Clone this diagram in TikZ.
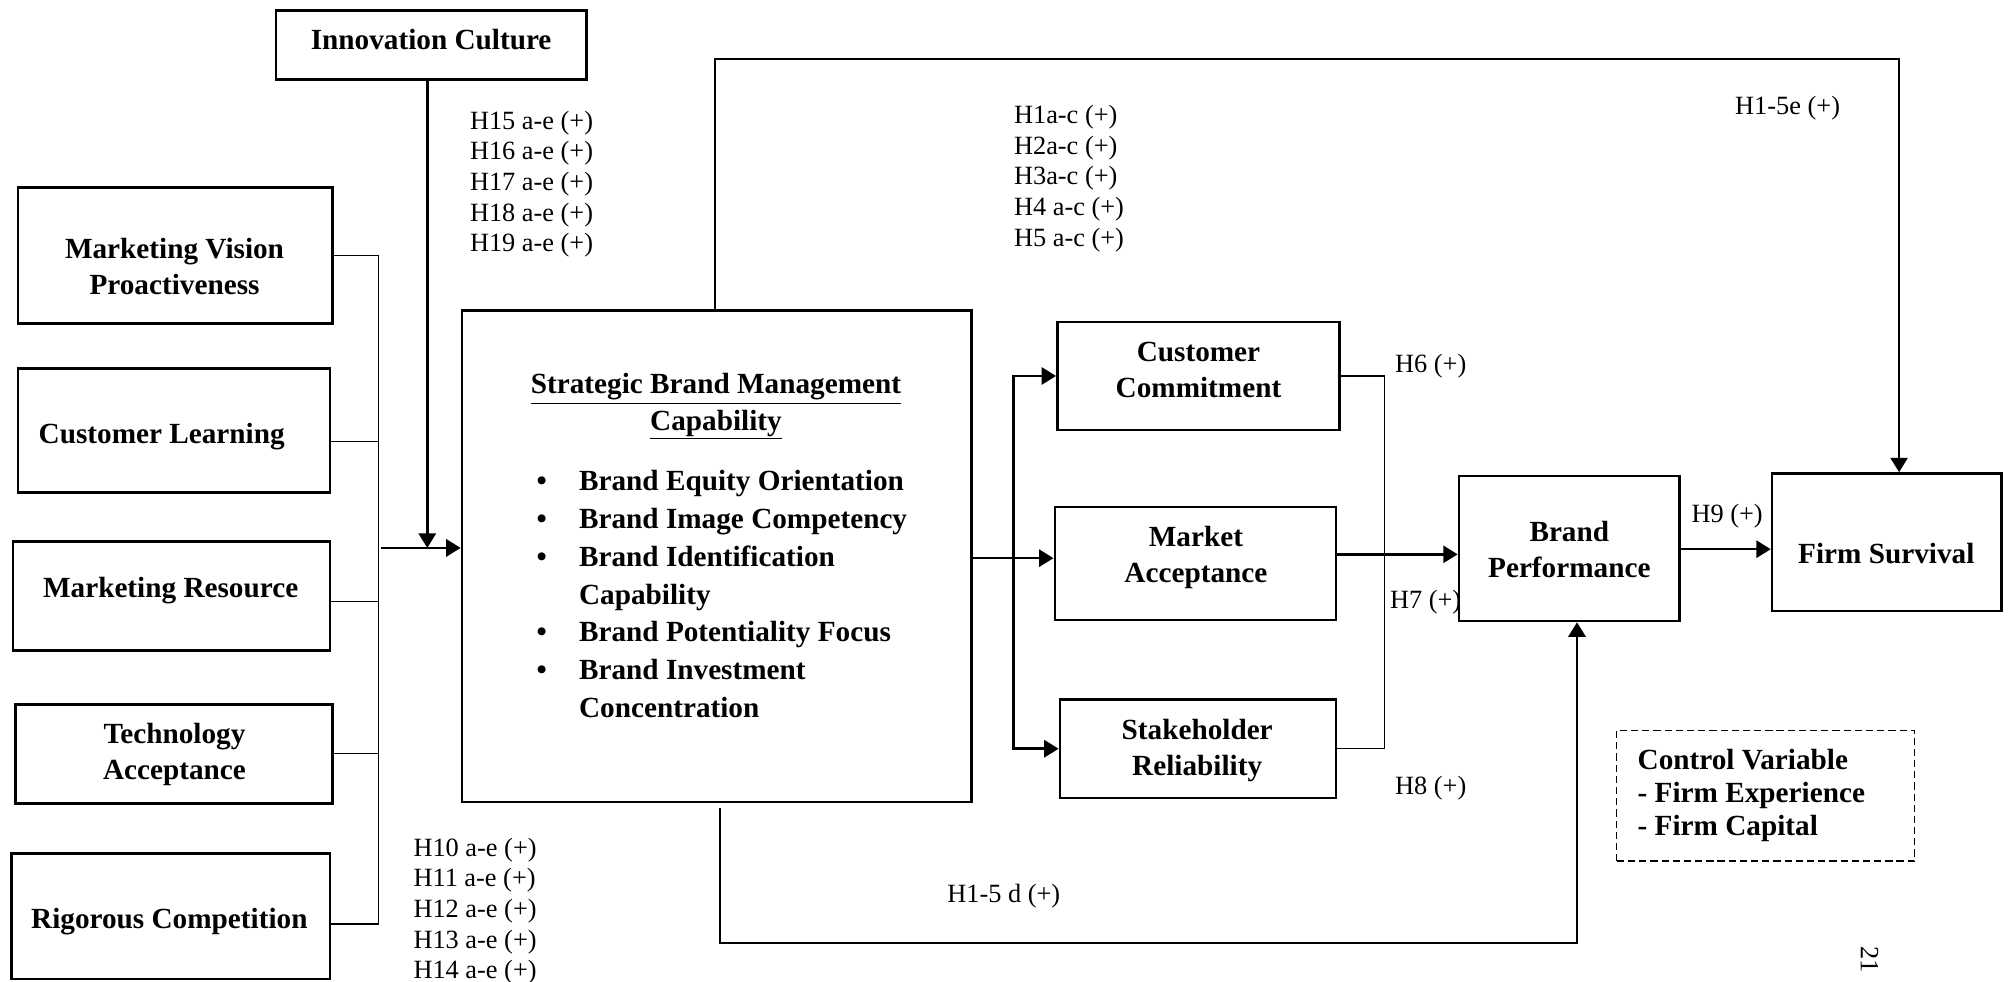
\documentclass[tikz,border=0pt]{standalone}
\usepackage{fontspec}
\setmainfont{Liberation Serif}
\usetikzlibrary{arrows.meta,calc}

\newcommand{\bxfont}{\fontsize{16.2}{20}\selectfont\bfseries}
\newcommand{\lbfont}{\fontsize{14.6}{17}\selectfont}
\newcommand{\itm}[1]{\makebox[23.5pt][l]{\textbullet}#1}
\newcommand{\itc}[1]{\hspace*{23.5pt}#1}

\begin{document}
\begin{tikzpicture}[x=0.025cm, y=-0.025cm,
  box/.style={draw, line width=1.4pt, fill=white, inner sep=0pt},
  sz/.style 2 args={minimum width=#1*0.025cm, minimum height=#2*0.025cm},
  btext/.style={font=\bxfont, align=center, inner sep=0pt},
  hyp/.style={font=\lbfont, align=left, anchor=west, inner sep=0pt},
  heavy/.style={line width=1.4pt},
  light/.style={line width=0.7pt},
  arr/.style={heavy, -{Triangle[length=8pt,width=9.5pt]}},
]
\useasboundingbox (0,0) rectangle (1568,765);

% hypothesis labels
\node[hyp] (h15) at (366,143.5) {H15 a-e (+)\\H16 a-e (+)\\H17 a-e (+)\\H18 a-e (+)\\H19 a-e (+)};
\node[hyp] (h1) at (790,139) {H1a-c (+)\\H2a-c (+)\\H3a-c (+)\\H4 a-c (+)\\H5 a-c (+)};
\node[hyp] (h15e) at (1352,84.5) {H1-5e (+)};
\node[hyp] (h10) at (322,710) {H10 a-e (+)\\H11 a-e (+)\\H12 a-e (+)\\H13 a-e (+)\\H14 a-e (+)};
\node[hyp] (h15d) at (738,698.5) {H1-5 d (+)};
\node[hyp] (h6) at (1087,285.5) {H6 (+)};
\node[hyp] (h7) at (1083,469) {H7 (+)};
\node[hyp] (h8) at (1087,614.5) {H8 (+)};
\node[hyp] (h9) at (1318,402.5) {H9 (+)};

% antecedents
\node[box, sz={242}{54}] (ic) at (336,35) {};
\node[btext] (ic-t) at (336,31) {Innovation Culture};
\node[box, sz={245}{106}] (mvp) at (136.5,199) {};
\node[btext] (mvp-t) at (136,208) {Marketing Vision\\Proactiveness};
\node[box, sz={243}{97}] (cl) at (135.5,335.5) {};
\node[btext] (cl-t) at (126,340) {Customer Learning};
\node[box, sz={247}{85}] (mr) at (133.5,464.5) {};
\node[btext] (mr-t) at (133,460) {Marketing Resource};
\node[box, sz={247}{77}] (ta) at (135.5,587.5) {};
\node[btext] (ta-t) at (136,588) {Technology\\Acceptance};
\node[box, sz={248}{98}] (rc) at (133,714) {};
\node[btext] (rc-t) at (132,718) {Rigorous Competition};

% strategic brand management capability
\node[box, sz={397}{383}] (sb) at (558.5,433.5) {};
\node[btext] (sb-t) at (558,317) {\underline{Strategic Brand Management}\\\underline{Capability}};
\node[font=\fontsize{16.2}{20.9}\selectfont\bfseries, align=left, anchor=west, inner sep=0pt] (sb-l) at (418,463)
  {\itm{Brand Equity Orientation}\\\itm{Brand Image Competency}\\\itm{Brand Identification}\\\itc{Capability}\\\itm{Brand Potentiality Focus}\\\itm{Brand Investment}\\\itc{Concentration}};

% mediators and outcomes
\node[box, sz={220}{84}] (cc) at (934,293) {};
\node[btext] (cc-t) at (934,288.5) {Customer\\Commitment};
\node[box, sz={219}{88}] (ma) at (931.5,439) {};
\node[btext] (ma-t) at (932,434.5) {Market\\Acceptance};
\node[box, sz={215}{77}] (sr) at (933.5,583.5) {};
\node[btext] (sr-t) at (933,585) {Stakeholder\\Reliability};
\node[box, sz={172}{113}] (bp) at (1223,427.5) {};
\node[btext] (bp-t) at (1223,428.5) {Brand\\Performance};
\node[box, sz={179}{107}] (fs) at (1470.5,422.5) {};
\node[btext] (fs-t) at (1470,431) {Firm Survival};

% control variables
\node[draw, line width=0.7pt, dash pattern={on 4pt off 2.2pt}, sz={232}{102}] (cv) at (1376,620) {};
\node[font=\fontsize{16.2}{18.5}\selectfont\bfseries, align=left, anchor=west, inner sep=0pt] (cv-t) at (1276,620)
  {Control Variable\\- Firm Experience\\- Firm Capital};

% page number
\node[font=\lbfont, rotate=-90, inner sep=0pt] (pg) at (1457,748) {21};

% antecedents bus
\coordinate (bus-top) at (295,199);
\coordinate (bus-bot) at (295,720);
\coordinate (jcl) at (295,344);
\coordinate (jmr) at (295,469);
\coordinate (jta) at (295,587);
\draw[light] (mvp.east) -- (bus-top);
\draw[light] (jcl -| cl.east) -- (jcl);
\draw[light] (jmr -| mr.east) -- (jmr);
\draw[light] (jta -| ta.east) -- (jta);
\draw[light] (bus-bot -| rc.east) -- (bus-bot);
\draw[light] (bus-top) -- (bus-bot);
\coordinate (jin) at (297,427);
\draw[arr] (jin) -- (jin -| sb.west);
\coordinate (jic) at (333,427);
\draw[arr] (jic |- ic.south) -- (jic);

% direct path to firm survival
\coordinate (tl) at (557,46);
\coordinate (tr) at (1480,46);
\draw[arr, line width=1pt] (tl |- sb.north) -- (tl) -- (tr) -- (tr |- fs.north);

% direct path to brand performance
\coordinate (bl) at (561,735);
\coordinate (br) at (1229,735);
\draw[arr] ($(bl |- sb.south)+(0,4)$) -- (bl) -- (br) -- (br |- bp.south);

% split to mediators
\coordinate (sp) at (790,435);
\draw[heavy] (sb.east |- sp) -- (sp);
\draw[heavy, line cap=rect] (sp |- cc.west) -- (sp |- sr.west);
\draw[arr] (sp) -- (sp -| ma.west);
\draw[arr] (sp |- cc.west) -- (cc.west);
\draw[arr] (sp |- sr.west) -- (sr.west);

% mediators to brand performance
\coordinate (rb) at (1079,0);
\draw[light] (cc.east) -- (cc.east -| rb) -- (sr.east -| rb) -- (sr.east);
\coordinate (mb) at (0,432);
\draw[arr] (ma.east |- mb) -- (bp.west |- mb);
\coordinate (bf) at (0,428);
\draw[arr] (bp.east |- bf) -- (fs.west |- bf);
\end{tikzpicture}
\end{document}
